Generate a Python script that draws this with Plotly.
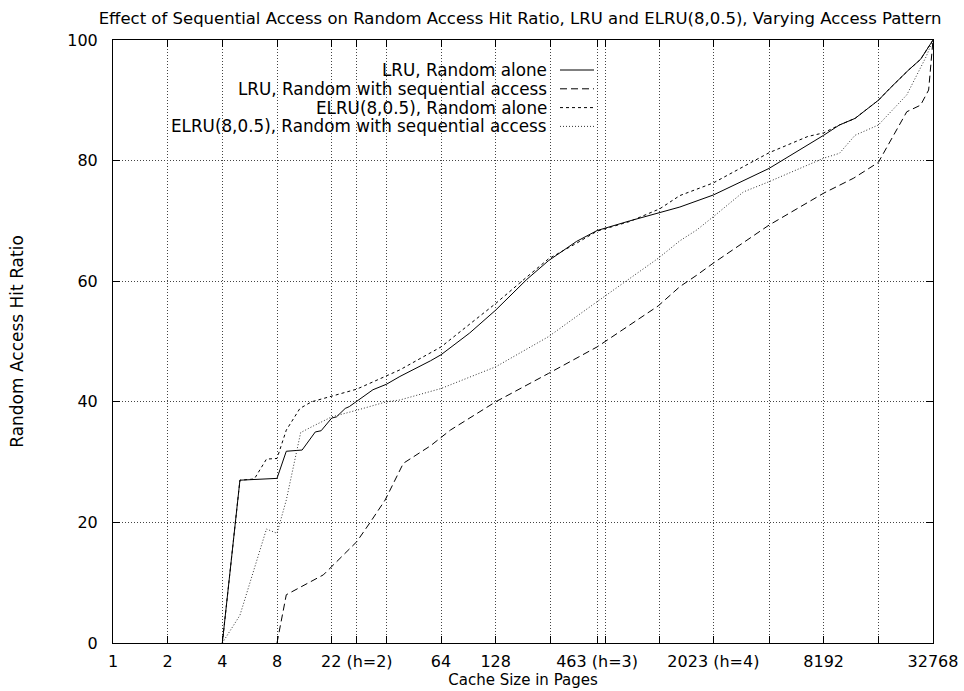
import plotly.graph_objects as go
import math

# ---------------- data ----------------
lru_alone_x = [4, 5, 8, 9, 11, 13, 14, 16, 17, 19, 20, 22, 23, 27, 32, 38, 56, 64, 92, 128, 190, 250, 357, 463,
               700, 1024, 1323, 2023, 4096, 8192, 10000, 12200, 14000, 16384, 19000, 24000, 28000, 32768]
lru_alone_y = [0, 27.0, 27.3, 31.8, 32.0, 35.0, 35.2, 37.3, 37.5, 38.9, 39.2, 40.1, 40.4, 42.0, 42.9, 44.2, 46.8, 47.8,
               51.4, 55.2, 60.3, 63.4, 66.6, 68.4, 70.0, 71.3, 72.3, 74.3, 78.7, 84.2, 85.9, 87.0, 88.4, 90.0, 92.0,
               95.0, 96.8, 100]

lru_seq_x = [8, 9, 14.4, 22, 26, 31.5, 39.7, 56, 72, 128, 250, 463, 1005, 1323, 1639, 2023, 4096, 8192, 12000,
             16384, 23500, 28000, 31000, 32768]
lru_seq_y = [0, 8.0, 11.3, 16.8, 19.95, 23.7, 29.8, 32.7, 35.3, 40.0, 44.7, 49.1, 55.9, 59.1, 61.0, 63.0, 69.3,
             74.6, 77.1, 79.7, 88.1, 89.2, 91.7, 100]

elru_alone_x = [4, 5, 6, 7, 8, 9, 10.7, 12.4, 22, 32, 38, 64, 128, 190, 250, 357, 463, 700, 1024, 1323, 2023,
                4096, 6700, 8192, 10000, 12200, 14000, 16384, 19000, 24000, 28000, 32768]
elru_alone_y = [0, 27.0, 27.2, 30.5, 30.6, 35.3, 38.9, 40.0, 42.1, 44.2, 45.3, 49.1, 56.3, 60.7, 63.7, 66.3, 68.3,
                69.9, 72.0, 74.2, 76.3, 81.3, 84.0, 84.6, 85.9, 87.0, 88.4, 90.0, 92.0, 95.0, 96.8, 100]

elru_seq_x = [4, 5, 7, 8, 9, 10.8, 12.7, 16, 22, 32, 38, 56, 64, 128, 250, 463, 1005, 1323, 1639, 2023, 2960,
              4096, 8192, 10000, 12200, 16384, 23500, 30000, 32768]
elru_seq_y = [0, 4.6, 18.9, 18.2, 23.7, 34.9, 36.0, 37.5, 38.6, 40.0, 40.3, 41.7, 42.2, 45.8, 50.8, 56.6, 63.8,
              66.7, 68.5, 70.7, 74.8, 76.5, 80.4, 81.2, 84.2, 85.9, 90.9, 97.2, 100]

series_names = ["LRU, Random alone", "LRU, Random with sequential access",
                "ELRU(8,0.5), Random alone", "ELRU(8,0.5), Random with sequential access"]

x_tickvals = [1, 2, 4, 8, 16, 22, 32, 64, 128, 256, 463, 512, 1024, 2023, 4096, 8192, 16384, 32768]
x_ticktext = ["1", "2", "4", "8", "", "22 (h=2)", "", "64", "128", "", "463 (h=3)", "", "", "2023 (h=4)", "",
              "8192", "", "32768"]
y_tickvals = [0, 20, 40, 60, 80, 100]

# ---------------- style ----------------
FONT = "DejaVu Sans, Liberation Sans, sans-serif"
styles = [
    dict(color="black", width=1, dash="solid"),
    dict(color="black", width=1, dash="7px,4px"),
    dict(color="black", width=1, dash="3px,3px"),
    dict(color="#333333", width=1, dash="1px,2px"),
]

fig = go.Figure()
data = [(lru_alone_x, lru_alone_y), (lru_seq_x, lru_seq_y), (elru_alone_x, elru_alone_y), (elru_seq_x, elru_seq_y)]
for (xs, ys), name, st in zip(data, series_names, styles):
    fig.add_trace(go.Scatter(x=xs, y=ys, mode="lines", name=name, line=st, showlegend=False))

# manual gnuplot-style legend (text right-aligned, sample on the right)
L, R, T, B = 113, 933, 40, 643
W, H = 964, 691
pw, ph = R - L, B - T
def px(xpix):
    return (xpix - L) / pw
def py(ypix):
    return (B - ypix) / ph

for i, (name, st) in enumerate(zip(series_names, styles)):
    yy = 70 + i * 18.8
    fig.add_annotation(x=px(549), y=py(yy), xref="paper", yref="paper", text=name, showarrow=False,
                       xanchor="right", yanchor="middle", xshift=0,
                       font=dict(family=FONT, size=16.8, color="black"))
    fig.add_shape(type="line", xref="paper", yref="paper", x0=px(560), x1=px(594), y0=py(yy), y1=py(yy),
                  line=st)

axis_common = dict(showline=True, linecolor="black", linewidth=1, mirror="ticks", ticks="inside",
                   ticklen=7, tickcolor="black", showgrid=True, gridcolor="#444444", griddash="1px,2px",
                   gridwidth=1, zeroline=False, tickfont=dict(family=FONT, size=16, color="black"))

fig.update_xaxes(type="log", range=[0, math.log10(32768)], tickvals=x_tickvals, ticktext=x_ticktext,
                 title=dict(text="Cache Size in Pages", font=dict(family=FONT, size=15, color="black"), standoff=1),
                 ticklabelstandoff=4, **axis_common)
fig.update_yaxes(range=[0, 100], tickvals=y_tickvals,
                 title=dict(text="Random Access Hit Ratio", font=dict(family=FONT, size=17, color="black"),
                            standoff=39),
                 ticklabelstandoff=11, **axis_common)

fig.update_layout(
    width=W, height=H,
    margin=dict(l=L, r=W - R, t=T, b=H - B, autoexpand=False),
    paper_bgcolor="white", plot_bgcolor="white",
    title=dict(text="Effect of Sequential Access on Random Access Hit Ratio, LRU and ELRU(8,0.5), Varying Access Pattern",
               x=520 / W, xanchor="center", y=1 - 18 / H, yanchor="middle",
               font=dict(family=FONT, size=16.5, color="black")),
    font=dict(family=FONT, size=15, color="black"),
)

fig.write_html("out.html")
